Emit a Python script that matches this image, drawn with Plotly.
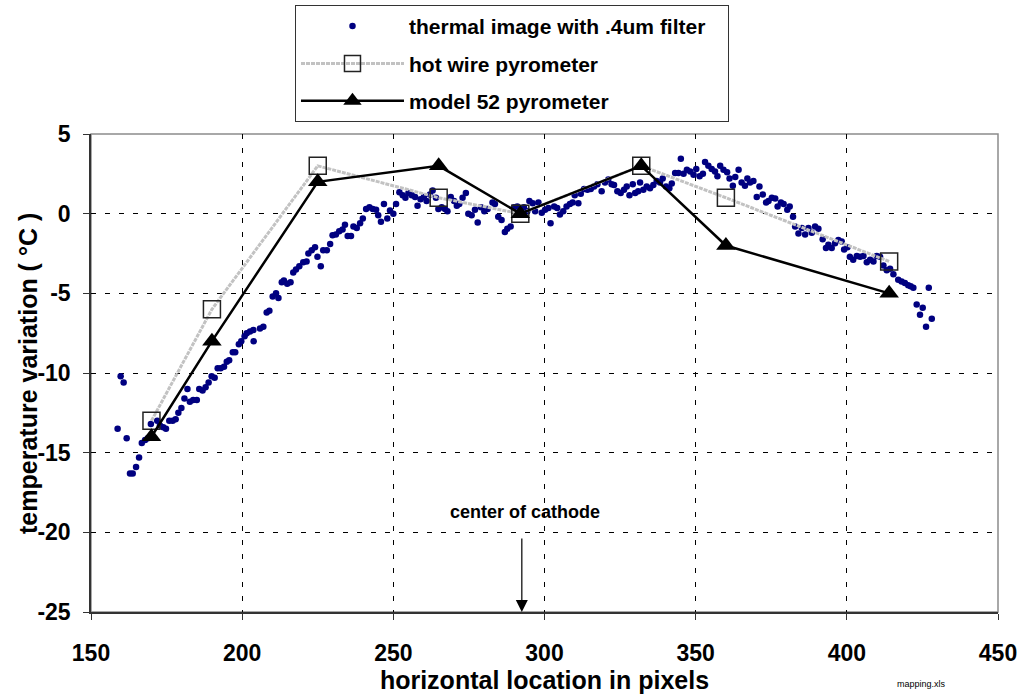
import plotly.graph_objects as go

# Thermal image profile (.4 um filter): horizontal pixel location and temperature variation (°C)
thermal_x = [
    158.8, 159.8, 160.8, 161.8, 162.9, 163.8, 164.9, 165.9, 166.8, 167.9,
    168.8, 169.8, 171.9, 172.8, 173.9, 174.8, 175.9, 177.0, 178.0, 178.9,
    179.9, 180.9, 181.9, 182.7, 183.8, 185.0, 185.8, 186.9, 187.9, 188.9,
    189.9, 190.9, 191.9, 192.9, 194.0, 194.9, 195.7, 196.9, 197.7, 198.9,
    199.7, 200.8, 201.5, 202.6, 203.7, 203.8, 205.9, 207.0, 208.1, 209.0,
    210.1, 211.2, 212.0, 213.1, 213.8, 214.9, 216.0, 216.9, 217.8, 218.9,
    220.2, 221.3, 221.9, 223.0, 224.1, 224.9, 226.0, 226.8, 228.0, 229.1,
    229.9, 231.0, 232.1, 233.2, 234.0, 234.9, 236.0, 236.8, 237.9, 239.0,
    239.9, 241.0, 242.1, 243.2, 244.3, 245.0, 245.9, 246.9, 248.0, 248.9,
    250.0, 250.9, 252.0, 253.1, 254.0, 255.0, 256.1, 257.2, 258.0, 259.0,
    260.1, 261.0, 262.1, 263.0, 264.1, 264.9, 266.0, 267.1, 267.9, 269.0,
    270.1, 271.0, 271.8, 272.9, 274.0, 274.8, 275.9, 277.0, 277.9, 279.0,
    280.1, 281.2, 282.8, 283.6, 284.7, 285.8, 286.9, 287.7, 288.8, 289.9,
    291.0, 292.1, 293.2, 294.3, 295.0, 296.1, 296.9, 298.0, 299.1, 300.2,
    301.3, 302.0, 303.2, 304.2, 305.1, 306.2, 307.3, 308.4, 309.3, 310.0,
    311.2, 312.0, 313.1, 314.2, 315.3, 316.4, 317.5, 318.9, 320.0, 321.1,
    322.2, 323.0, 324.1, 325.2, 326.3, 327.2, 328.1, 329.2, 330.0, 331.0,
    331.6, 332.7, 333.8, 334.9, 336.0, 337.1, 338.2, 339.1, 340.2, 341.3,
    342.1, 343.2, 344.3, 345.1, 346.0, 347.1, 348.2, 349.3, 350.2, 351.3,
    352.4, 353.1, 354.2, 355.3, 356.4, 357.2, 358.1, 359.2, 360.4, 361.2,
    362.3, 363.1, 364.2, 365.2, 366.3, 367.1, 368.0, 369.1, 370.2, 371.1,
    372.2, 373.3, 374.1, 375.2, 376.3, 377.1, 378.2, 379.1, 380.3, 381.1,
    382.2, 382.9, 384.0, 385.1, 386.2, 387.3, 388.4, 389.5, 390.6, 392.0,
    393.1, 393.9, 395.0, 396.1, 397.2, 398.3, 399.1, 400.2, 401.0, 402.1,
    403.3, 404.4, 405.5, 406.6, 407.7, 408.8, 409.9, 411.0, 412.1, 413.2,
    414.3, 415.4, 417.0, 418.1, 419.2, 420.3, 421.1, 422.0, 423.1, 424.2,
    425.1, 426.2, 427.1, 428.1,
]
thermal_y = [
    -13.5, -10.2, -10.6, -14.1, -16.3, -16.3, -15.9, -15.3, -14.4, -14.2,
    -14.1, -13.2, -13.0, -13.3, -13.4, -13.5, -13.0, -13.0, -12.9, -12.5,
    -12.2, -11.6, -11.0, -11.8, -11.7, -11.7, -11.0, -11.1, -10.9, -10.6,
    -10.2, -10.3, -9.7, -9.7, -9.6, -9.3, -9.2, -8.7, -8.7, -8.2,
    -8.0, -7.7, -7.5, -7.4, -7.3, -8.0, -7.2, -7.1, -6.2, -6.1,
    -5.2, -5.0, -5.3, -4.3, -4.2, -4.4, -4.3, -3.7, -3.5, -3.3,
    -3.05, -3.0, -2.5, -2.3, -2.1, -2.7, -3.3, -2.3, -2.3, -1.9,
    -1.35, -1.3, -1.1, -1.0, -0.7, -1.4, -1.4, -0.8, -0.9, -0.6,
    -0.3, 0.3, 0.4, 0.3, 0.25, -0.1, -0.5, 0.6, -0.3, 0.2,
    0.0, 0.6, 1.35, 1.15, 1.0, 1.3, 1.15, 1.05, 0.5, 0.9,
    1.05, 0.8, 1.2, 1.45, 1.0, 0.3, 0.4, 0.3, 0.15, 1.05,
    0.8, 0.5, 0.6, 1.0, 1.3, 0.0, -0.1, 0.25, -0.55, 0.4,
    0.15, 0.3, 0.7, 0.6, -0.2, -0.4, -1.15, -0.95, -0.8, 0.4,
    0.45, 0.3, 0.4, 0.15, 0.8, 0.65, 0.15, 0.7, 0.05, 0.25,
    0.35, -0.6, 0.45, 0.35, -0.05, 0.15, 0.45, 0.6, 0.7, 1.15,
    0.65, 1.25, 1.55, 1.5, 1.55, 1.7, 1.85, 1.4, 1.95, 2.15,
    1.85, 1.8, 1.4, 1.3, 1.5, 1.7, 1.15, 1.85, 1.3, 1.4,
    1.95, 1.5, 1.7, 1.6, 1.8, 2.05, 1.95, 2.2, 1.7, 1.6,
    1.9, 2.55, 2.55, 3.45, 2.5, 2.75, 2.65, 2.45, 2.8, 2.35,
    2.5, 3.25, 3.0, 2.8, 2.65, 2.35, 3.0, 2.75, 2.6, 2.2,
    1.75, 2.3, 2.75, 1.95, 1.75, 2.2, 1.95, 2.05, 1.05, 1.7,
    1.2, 0.7, 0.8, 1.0, 0.95, 0.45, 0.7, 0.6, 0.25, 0.45,
    -0.2, -0.8, -1.25, -0.9, -1.3, -0.9, -1.2, -0.8, -0.95, -1.6,
    -2.15, -1.95, -2.15, -1.85, -1.65, -1.75, -2.25, -2.1, -2.7, -2.9,
    -2.65, -2.7, -2.65, -3.05, -2.9, -3.0, -2.65, -2.7, -3.25, -3.55,
    -3.45, -3.8, -4.15, -4.25, -4.35, -4.5, -4.55, -4.65, -5.7, -6.35,
    -5.9, -7.1, -4.65, -6.6,
]

# Pyrometer readings at the probe locations
pyro_x = [170, 190, 225, 265, 292, 332, 360, 414]
hot_wire_y = [-13, -6, 3, 1, 0, 3, 1, -3]
model52_y = [-14, -8, 2, 3, 0, 3, -2, -5]

# Axis ticks
x_ticks = [150, 200, 250, 300, 350, 400, 450]
y_ticks = [5, 0, -5, -10, -15, -20, -25]

# Marker for the centre of the cathode
cathode_x = 292.5
arrow_tail_y = -20.3

FONT = "Arial, Liberation Sans, sans-serif"
NBSP = "\u00a0"

fig = go.Figure()

fig.add_trace(go.Scatter(
    x=thermal_x, y=thermal_y, mode="markers",
    name="thermal image with .4um filter" + NBSP * 3, legendgroup="a",
    marker=dict(symbol="circle", size=6.5, color="#000080"),
))
fig.add_trace(go.Scatter(
    x=pyro_x, y=hot_wire_y, mode="lines+markers",
    name="hot wire pyrometer", legendgroup="b",
    line=dict(color="#c2c2c2", width=3, dash="4px,1px"),
    marker=dict(symbol="square-open", size=17, color="#222222",
                line=dict(width=1.5, color="#222222")),
))
fig.add_trace(go.Scatter(
    x=pyro_x, y=model52_y, mode="lines+markers",
    name="model 52 pyrometer", legendgroup="c",
    line=dict(color="black", width=2.5),
    marker=dict(symbol="triangle-up", size=17, color="black"),
))

grid = dict(showgrid=True, gridcolor="black", gridwidth=1, griddash="5px,9px")

fig.update_xaxes(
    range=[150, 450], tickvals=x_ticks, ticktext=[str(v) for v in x_ticks],
    showline=True, linecolor="#333333", linewidth=1.5,
    ticks="outside", ticklen=6, tickcolor="#333333", tickwidth=1,
    tickfont=dict(family=FONT, size=23, color="black", weight="bold"),
    ticklabelstandoff=14,
    title=dict(text="horizontal location in pixels", standoff=3,
               font=dict(family=FONT, size=25, color="black", weight="bold")),
    zeroline=False, **grid,
)
fig.update_yaxes(
    range=[-25, 5], tickvals=y_ticks, ticktext=[str(v) for v in y_ticks],
    showline=True, linecolor="#333333", linewidth=1.5,
    ticks="outside", ticklen=6, tickcolor="#333333", tickwidth=1,
    tickfont=dict(family=FONT, size=23, color="black", weight="bold"),
    ticklabelstandoff=8,
    zeroline=False, **grid,
)

# Plot-area frame (top and right edges in grey)
fig.add_shape(type="rect", xref="paper", yref="paper", x0=0, y0=0, x1=1, y1=1,
              line=dict(color="#8c8c8c", width=1.5), layer="below")

# Vertical axis title
fig.add_annotation(
    x=-0.0695, y=0.5, xref="paper", yref="paper", xanchor="center", yanchor="middle",
    text="temperature variation ( °C )", textangle=-90, showarrow=False,
    font=dict(family=FONT, size=25, color="black", weight="bold"),
)

fig.add_annotation(
    x=cathode_x, y=-25, ax=cathode_x, ay=arrow_tail_y,
    xref="x", yref="y", axref="x", ayref="y",
    showarrow=True, arrowhead=2, arrowsize=2, arrowwidth=1.2, arrowcolor="black",
    text="",
)
fig.add_annotation(
    x=cathode_x + 1.2, y=arrow_tail_y + 1.55, xref="x", yref="y",
    text="center of cathode", showarrow=False,
    font=dict(family=FONT, size=18, color="black", weight="bold"),
)
fig.add_annotation(
    x=0.945, y=-0.165, xref="paper", yref="paper",
    text="mapping.xls", showarrow=False,
    font=dict(family=FONT, size=9, color="black"),
)

fig.update_layout(
    width=1024, height=700,
    margin=dict(l=91, r=26, t=134, b=88, autoexpand=False),
    paper_bgcolor="white", plot_bgcolor="white",
    font=dict(family=FONT, color="black"),
    showlegend=True,
    legend=dict(
        x=0.2249, y=1.27, xanchor="left", yanchor="top",
        bordercolor="#333333", borderwidth=1, bgcolor="white",
        font=dict(family=FONT, size=21, color="black", weight="bold"),
        itemwidth=103, tracegroupgap=7, traceorder="grouped",
        itemsizing="trace",
    ),
)

fig.write_html("out.html")
